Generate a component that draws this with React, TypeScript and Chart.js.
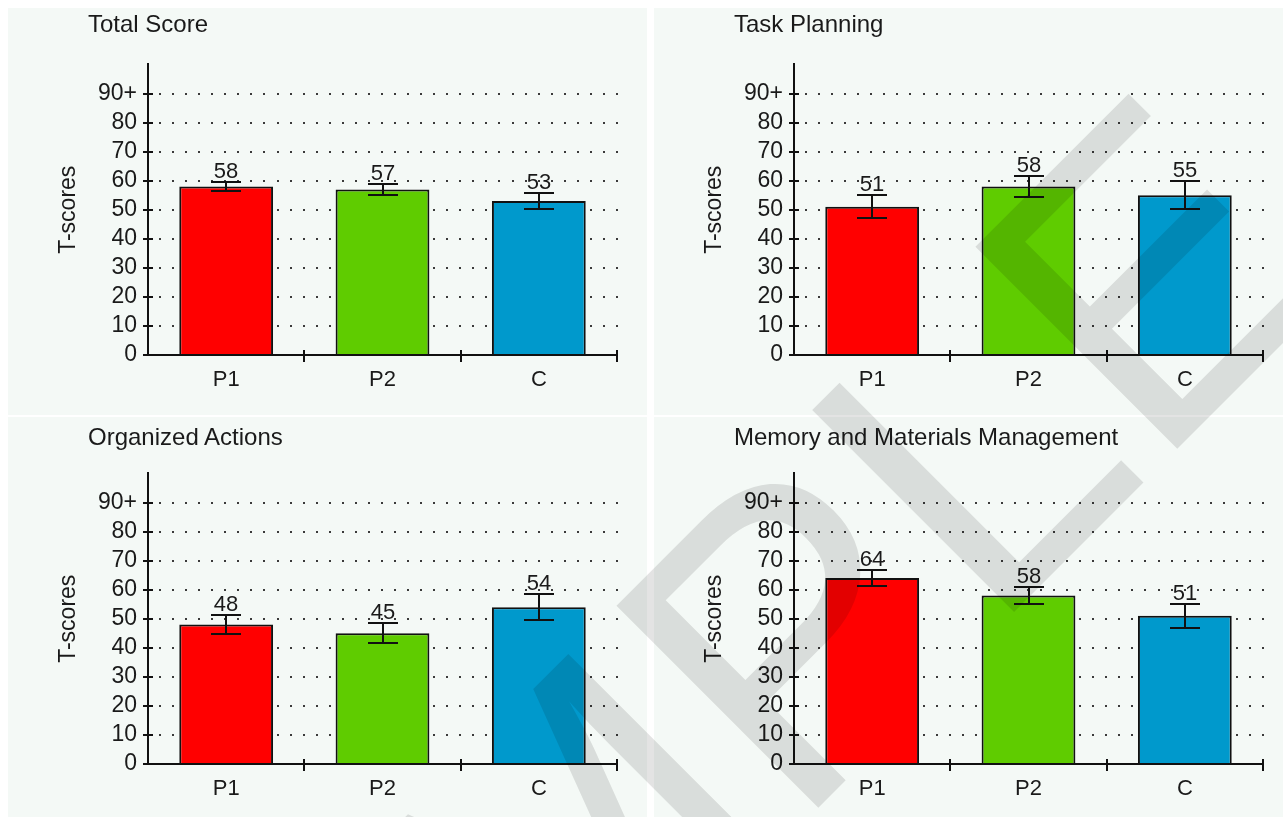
import React, { useEffect, useRef } from 'react';
import { Chart, registerables } from 'chart.js';

Chart.register(...registerables);

// Categories and shared axis definitions
const categories = ['P1', 'P2', 'C'];
const barColors = ['#ff0000', '#5fcc00', '#0099cc'];
const yTickValues = [0, 10, 20, 30, 40, 50, 60, 70, 80, 90];
const yTickLabels = ['0', '10', '20', '30', '40', '50', '60', '70', '80', '90+'];
const yAxisTitle = 'T-scores';
const watermarkText = 'SAMPLE';

// Scale scores (bar heights) and their error margins
const totalScore = [58, 57, 53];
const totalScoreError = [1.7, 1.8, 2.7];
const taskPlanning = [51, 58, 55];
const taskPlanningError = [4.0, 3.7, 4.8];
const organizedActions = [48, 45, 54];
const organizedActionsError = [3.4, 3.4, 4.6];
const memoryMaterials = [64, 58, 51];
const memoryMaterialsError = [2.7, 3.0, 4.1];

const FONT = '"Liberation Sans", Arial, sans-serif';
const TEXT = '#1a1a1a';
const INK = '#111111';
const PANEL_BG = '#f4f9f6';

// Chart area geometry inside every panel
const AREA_LEFT = 140;
const AREA_RIGHT = 609;
const AREA_BOTTOM = 347;
const Y_MAX = 100;

const decorPlugin = {
  id: 'decor',
  beforeDatasetsDraw(chart: any) {
    const { ctx, chartArea, scales } = chart;
    const y = scales.y;
    ctx.save();
    ctx.fillStyle = '#3a3a3a';
    const start = chartArea.left + 12;
    const span = chartArea.right - start;
    const count = Math.round(span / 13.1);
    const step = span / count;
    for (const v of yTickValues) {
      if (v === 0) continue;
      const py = Math.round(y.getPixelForValue(v));
      for (let k = 0; k <= count; k++) {
        const px = Math.round(start + k * step);
        ctx.fillRect(px - 1, py - 1, 2, 2);
      }
    }
    ctx.restore();
  },
  afterDatasetsDraw(chart: any) {
    const { ctx, chartArea, scales } = chart;
    const x = scales.x;
    const y = scales.y;
    const ds = chart.data.datasets[0];
    const errs: number[] = (ds as any).errors;
    const meta = chart.getDatasetMeta(0);
    ctx.save();
    ctx.strokeStyle = INK;
    ctx.lineWidth = 2;

    // axes
    const left = Math.round(chartArea.left);
    const bottom = Math.round(chartArea.bottom);
    ctx.beginPath();
    ctx.moveTo(left, Math.round(y.getPixelForValue(Y_MAX)) - 2);
    ctx.lineTo(left, bottom);
    ctx.moveTo(left - 5, bottom);
    ctx.lineTo(Math.round(chartArea.right), bottom);
    ctx.stroke();

    // y tick crosses
    ctx.beginPath();
    for (const v of yTickValues) {
      const py = Math.round(y.getPixelForValue(v));
      ctx.moveTo(left - 5, py);
      ctx.lineTo(left + 5, py);
    }
    // x tick crosses at category boundaries
    const n = categories.length;
    for (let i = 1; i <= n; i++) {
      const px = Math.round(x.left + (i * x.width) / n);
      ctx.moveTo(px, bottom - 5);
      ctx.lineTo(px, bottom + 7);
    }
    ctx.stroke();

    // error bars and value labels
    ctx.font = `22px ${FONT}`;
    ctx.fillStyle = TEXT;
    ctx.textAlign = 'center';
    ctx.textBaseline = 'alphabetic';
    meta.data.forEach((bar: any, i: number) => {
      const v = ds.data[i] as number;
      const e = errs[i];
      const cx = Math.round(bar.x);
      const yTop = Math.round(y.getPixelForValue(v + e));
      const yBot = Math.round(y.getPixelForValue(v - e));
      ctx.beginPath();
      ctx.moveTo(cx, yTop);
      ctx.lineTo(cx, yBot);
      ctx.moveTo(cx - 15, yTop);
      ctx.lineTo(cx + 15, yTop);
      ctx.moveTo(cx - 15, yBot);
      ctx.lineTo(cx + 15, yBot);
      ctx.stroke();
      ctx.fillText(String(v), cx, yTop - 4);
    });
    ctx.restore();
  },
};

type PanelProps = {
  title: string;
  values: number[];
  errors: number[];
  left: number;
  top: number;
  width: number;
  height: number;
  titleTop: number;
};

function Panel({ title, values, errors, left, top, width, height, titleTop }: PanelProps) {
  const ref = useRef<HTMLCanvasElement>(null);
  useEffect(() => {
    const chart = new Chart(ref.current as HTMLCanvasElement, {
      type: 'bar',
      data: {
        labels: categories,
        datasets: [
          {
            data: values,
            errors,
            backgroundColor: barColors,
            borderColor: INK,
            borderWidth: 2,
            borderSkipped: 'bottom',
            barPercentage: 0.6,
            categoryPercentage: 1,
          } as any,
        ],
      },
      options: {
        responsive: false,
        animation: false,
        devicePixelRatio: 1,
        layout: {
          padding: { top: AREA_BOTTOM - Y_MAX * 2.905, right: width - AREA_RIGHT, left: 0, bottom: 0 },
        },
        plugins: {
          legend: { display: false },
          tooltip: { enabled: false },
          title: { display: false },
        },
        scales: {
          x: {
            grid: { display: false, drawTicks: false },
            border: { display: false },
            ticks: { color: TEXT, font: { family: FONT, size: 22 }, padding: 12 },
            afterFit: (s: any) => {
              s.height = height - AREA_BOTTOM;
            },
          },
          y: {
            min: 0,
            max: Y_MAX,
            afterBuildTicks: (s: any) => {
              s.ticks = yTickValues.map((v) => ({ value: v }));
            },
            grid: { display: false, drawTicks: false },
            border: { display: false },
            ticks: {
              color: TEXT,
              font: { family: FONT, size: 23 },
              padding: 11,
              callback: (v: any) => {
                const idx = yTickValues.indexOf(Number(v));
                return idx >= 0 ? yTickLabels[idx] : '';
              },
            },
            title: {
              display: true,
              text: yAxisTitle,
              color: TEXT,
              font: { family: FONT, size: 23 },
              padding: { top: 47, bottom: 0 },
            },
            afterFit: (s: any) => {
              s.width = AREA_LEFT;
            },
          },
        },
      },
      plugins: [decorPlugin],
    });
    return () => chart.destroy();
  }, []);

  return (
    <div
      style={{
        position: 'absolute',
        left,
        top,
        width,
        height,
        background: PANEL_BG,
        overflow: 'hidden',
      }}
    >
      <canvas ref={ref} width={width} height={height} style={{ position: 'absolute', left: 0, top: 0, width, height }} />
      <div
        style={{
          position: 'absolute',
          left: 80,
          top: titleTop,
          font: `24px ${FONT}`,
          lineHeight: '24px',
          color: TEXT,
          whiteSpace: 'nowrap',
        }}
      >
        {title}
      </div>
    </div>
  );
}

function Watermark() {
  const ref = useRef<HTMLCanvasElement>(null);
  useEffect(() => {
    const ctx = (ref.current as HTMLCanvasElement).getContext('2d') as CanvasRenderingContext2D;
    ctx.clearRect(0, 0, 1283, 817);
    ctx.save();
    ctx.font = `415px ${FONT}`;
    const pre = ctx.measureText('SAMP').width;
    const ang = -Math.PI / 4;
    const ux = Math.cos(ang);
    const uy = Math.sin(ang);
    const lx = 990;
    const ly = 636;
    ctx.translate(lx - pre * ux, ly - pre * uy);
    ctx.rotate(ang);
    ctx.fillStyle = 'rgba(0,0,0,0.11)';
    ctx.textBaseline = 'alphabetic';
    ctx.fillText(watermarkText, 0, 0);
    ctx.restore();
  }, []);
  return (
    <canvas
      ref={ref}
      width={1283}
      height={817}
      style={{ position: 'absolute', left: 0, top: 0, width: 1283, height: 817, pointerEvents: 'none' }}
    />
  );
}

export default function App() {
  return (
    <div style={{ position: 'absolute', left: 0, top: 0, width: 1283, height: 817, background: '#ffffff', overflow: 'hidden' }}>
      <Panel title="Total Score" values={totalScore} errors={totalScoreError} left={8} top={8} width={639} height={407} titleTop={4} />
      <Panel title="Task Planning" values={taskPlanning} errors={taskPlanningError} left={654} top={8} width={629} height={407} titleTop={4} />
      <Panel title="Organized Actions" values={organizedActions} errors={organizedActionsError} left={8} top={417} width={639} height={400} titleTop={8} />
      <Panel
        title="Memory and Materials Management"
        values={memoryMaterials}
        errors={memoryMaterialsError}
        left={654}
        top={417}
        width={629}
        height={400}
        titleTop={8}
      />
      <Watermark />
    </div>
  );
}
